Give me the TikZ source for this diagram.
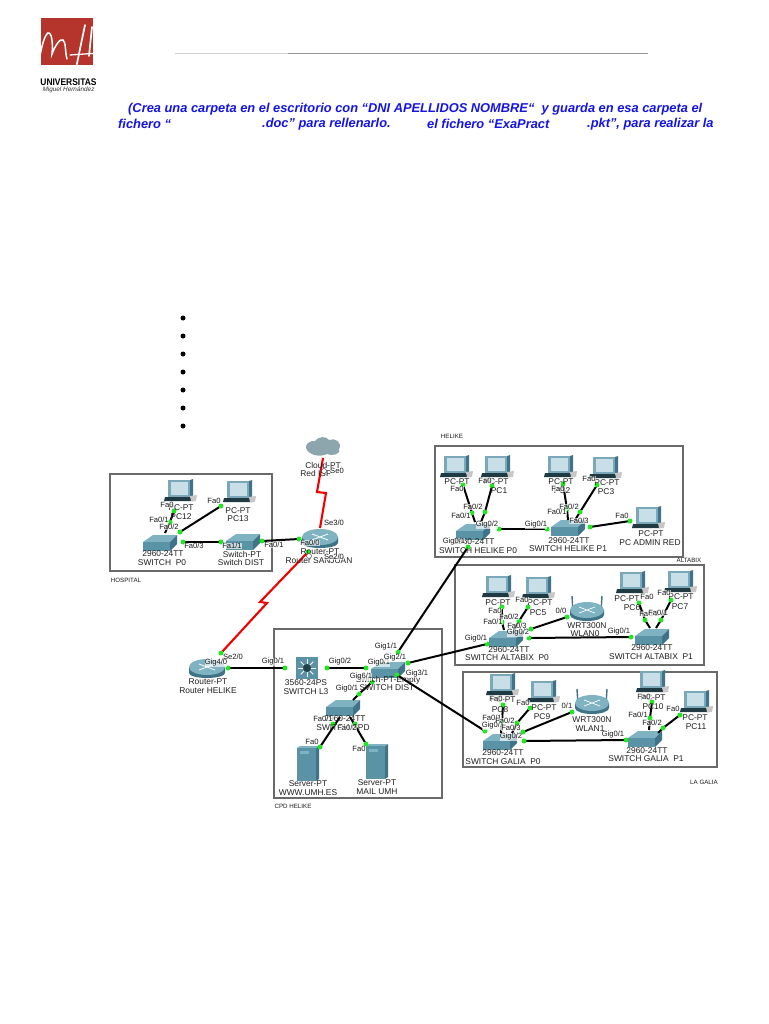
\documentclass[tikz,border=0pt]{standalone}
\usepackage{fontspec}
\setmainfont{Liberation Sans}
\usetikzlibrary{calc}
\definecolor{tealtop}{HTML}{7FB3C2}
\definecolor{tealfront}{HTML}{5A93A5}
\definecolor{tealside}{HTML}{3F7488}
\definecolor{screenc}{HTML}{C8DFE8}
\definecolor{pcframe}{HTML}{7BA8B9}
\definecolor{linkgreen}{HTML}{22E622}
\definecolor{boxgray}{HTML}{6A6A6A}
\definecolor{headblue}{HTML}{1414E6}
\definecolor{logored}{HTML}{B5342B}
\definecolor{cloudc}{HTML}{8DA6AE}
\newcounter{lblc}
\newcommand{\lb}[3]{\stepcounter{lblc}\node[portlabel] (lbl\arabic{lblc}) at (#1,#2) {#3};}
\newcommand{\dv}[3]{\stepcounter{lblc}\node[devlabel] (lbl\arabic{lblc}) at (#1,#2) {#3};}
\tikzset{
 x=1pt,y=-1pt,
 portlabel/.style={font=\fontsize{7.6}{8}\selectfont,fill=white,fill opacity=.65,text opacity=1,inner sep=.2pt,text=black!90},
 devlabel/.style={font=\fontsize{8.4}{9}\selectfont,inner sep=0pt,text=black!88},
 tinylabel/.style={font=\fontsize{6.2}{7}\selectfont,inner sep=0pt,text=black!90},
 headtext/.style={font=\fontsize{12.85}{15}\selectfont\bfseries\itshape,text=headblue,anchor=west,inner sep=0pt},
 areabox/.style={draw=boxgray,line width=1.2pt,fill=white},
 eth/.style={line width=2pt,black},
 serial/.style={line width=2.1pt,red!95!black},
 pdot/.style={circle,fill=linkgreen,inner sep=0pt,minimum size=5pt},
 pics/pcdev/.style={code={
   \fill[tealside] (10,-10) -- (13,-11) -- (13,6) -- (10,7) -- cycle;
   \fill[pcframe] (-12,-10) rectangle (10,7);
   \fill[screenc] (-9,-8) rectangle (8,5);
   \fill[black!50!tealside] (-15,7) -- (10,7) -- (13,11) -- (-16,11) -- cycle;
   \fill[black!22] (10,6) -- (17,5) -- (16,11) -- (11,11) -- cycle;
 }},
 pics/switchdev/.style={code={
   \fill[tealtop] (-17,-1) -- (-7,-8) -- (17,-8) -- (10,-1) -- cycle;
   \fill[tealfront] (-17,-1) rectangle (10,8);
   \fill[tealside] (10,-1) -- (17,-8) -- (17,1) -- (10,8) -- cycle;
 }},
 pics/routerdev/.style={code={
   \fill[tealside] (-18,0) -- (-18,6) arc[start angle=180,end angle=360,x radius=18,y radius=-5] -- (18,0) -- cycle;
   \fill[tealtop] (0,0) ellipse[x radius=18,y radius=8];
   \draw[white,line width=.8pt] (-8,-3) -- (8,3) (-8,3) -- (8,-3);
 }},
 pics/wrtdev/.style={code={
   \draw[tealside,line width=1.4pt] (-14,2) -- (-15,-14) (14,2) -- (15,-14);
   \fill[tealside] (-17,0) -- (-17,5) arc[start angle=180,end angle=360,x radius=17,y radius=-6] -- (17,0) -- cycle;
   \fill[tealtop] (0,0) ellipse[x radius=17,y radius=8];
   \draw[white,line width=.7pt] (-8,-3) -- (8,3) (-8,3) -- (8,-3);
 }},
 pics/serverdev/.style={code={
   \fill[tealside] (9,-16) -- (12,-18) -- (12,15) -- (9,17) -- cycle;
   \fill[tealtop] (-10,-16) -- (-7,-18) -- (12,-18) -- (9,-16) -- cycle;
   \fill[tealfront] (-10,-16) rectangle (9,17);
   \fill[tealtop] (-7,-13) rectangle (2,-10);
 }},
 pics/ltdev/.style={code={
   \fill[tealfront] (-11,-11) rectangle (11,11);
   \foreach \a in {0,45,...,315} {\draw[white,line width=.9pt] (\a:3.5) -- (\a:9);}
   \fill[black!45!tealside] (0,0) circle[radius=4];
 }},
 pics/clouddev/.style={code={
   \fill[cloudc] (-16,3) .. controls (-20,-3) and (-12,-7) .. (-8,-6)
     .. controls (-5,-11) and (4,-11) .. (6,-7) .. controls (12,-10) and (20,-4) .. (16,2)
     .. controls (18,8) and (8,9) .. (4,7) .. controls (-2,10) and (-12,9) .. (-16,3) -- cycle;
 }}
}
\begin{document}
\begin{tikzpicture}
\useasboundingbox (0,0) rectangle (768,1024);
\fill[white] (0,0) rectangle (768,1024);
% ---- header
\fill[logored] (41,18) rectangle (93,65);
\draw[white,line width=1.5pt,line cap=round] (39,60) .. controls (42,46) and (44,36) .. (48,33) .. controls (52,32) and (53,44) .. (52,54)
  .. controls (55,46) and (60,38) .. (63,40) .. controls (66,42) and (65,52) .. (67,59);
\draw[white,line width=1.7pt,line cap=round] (75,73) -- (85,25) (92,27) -- (89,56);
\draw[white,line width=1.3pt,line cap=round] (70,55) -- (99,53);
\node[inner sep=0pt,font=\fontsize{9.6}{10}\selectfont\bfseries,xscale=.88] (logoa) at (68.5,82) {UNIVERSITAS};
\node[inner sep=0pt,font=\fontsize{6.4}{7}\selectfont\itshape,text=black!80] (logob) at (68.5,89.5) {Miguel Hernández};
\coordinate (ruleA) at (175,53.5);\coordinate (ruleB) at (288,53.5);\coordinate (ruleC) at (648,53.5);
\draw[black!18,line width=1pt] (ruleA) -- (ruleB);
\draw[black!42,line width=1pt] (ruleB) -- (ruleC);
\node[headtext] (h1) at (128,109) {(Crea una carpeta en el escritorio con “DNI APELLIDOS NOMBRE“\ \ y guarda en esa carpeta el};
\node[headtext] (h2a) at (118,124) {fichero “};
\node[headtext] (h2b) at (262,124) {.doc” para rellenarlo.};
\node[headtext] (h2c) at (427,124) {el fichero “ExaPract};
\node[headtext] (h2d) at (587,124) {.pkt”, para realizar la};
\foreach \i/\yy in {1/318,2/336,3/354,4/372,5/390,6/408,7/426}
  \node[circle,fill=black,inner sep=0pt,minimum size=5pt] (bul\i) at (183,\yy) {};
% ---- area boxes
\node[areabox,minimum width=162pt,minimum height=97pt,inner sep=0pt] (hospbox) at (191,522.5) {};
\node[areabox,minimum width=168pt,minimum height=169pt,inner sep=0pt] (cpdbox) at (358,713.5) {};
\node[areabox,minimum width=248pt,minimum height=111pt,inner sep=0pt] (helbox) at (559,501.5) {};
\node[areabox,minimum width=249pt,minimum height=100pt,inner sep=0pt] (altbox) at (579.5,615) {};
\node[areabox,minimum width=254pt,minimum height=95pt,inner sep=0pt] (galbox) at (590,719.5) {};
\node[tinylabel] (tHosp) at (126,580) {HOSPITAL};
\node[tinylabel] (tCpd) at (293,806) {CPD HELIKE};
\node[tinylabel] (tHel) at (452,436) {HELIKE};
\node[tinylabel] (tAlt) at (689,560) {ALTABIX};
\node[tinylabel] (tGal) at (704,782) {LA GALIA};
% ---- devices
\foreach \xx/\yy in {180/490,239/491,456/466,497/466,560/466,605/467,648/517,498/586,538/587,632/582,680/581,502/684,543/691,652/681,696/701}
  \pic at (\xx,\yy) {pcdev};
\foreach \xx/\yy in {160/543,243/542,473/532,568/528,506/639,652/637,500/742,645/739,388/670,343/708}
  \pic at (\xx,\yy) {switchdev};
\foreach \xx/\yy in {320/537,207/667}
  \pic at (\xx,\yy) {routerdev};
\foreach \xx/\yy in {587/610,592/703}
  \pic at (\xx,\yy) {wrtdev};
\foreach \xx/\yy in {307/764,376/762}
  \pic at (\xx,\yy) {serverdev};
\pic at (307,668) {ltdev};
\pic at (323,447) {clouddev};
% ---- port coordinates
\foreach \n/\xx/\yy in {
 a1/174/511, a2/170/522, a2e/165/533, a3/221/506, a4/180/532, a5/183/542, a6/221/542, a7/262/541, a8/299/539,
 b1/228/668, b2/285/668, b3/327/668, b4/366/668, b5/398/652, b6/408/663, b7/397/675, b8/372/682, b9/359/694, b10/353/700,
 c1/333/724, c1e/340/717, c2/320/747, c3/355/724, c3e/350/717, c4/366/744,
 d1/463/485, d2/472/513, d2e/475/522, d3/492/486, d4/485/512, d4e/481/522, d5/499/529, d6/547/529, d7/563/484, d8/567/509, d8e/568/520,
 d9/597/485, d10/580/512, d10e/575/520, d11/590/527, d12/630/521, d13/468/547,
 e1/502/607, e2/502/622, e2e/504/630, e3/528/607, e4/519/621, e4e/514/630, e5/567/617, e6/531/629, e7/529/638, e8/631/637,
 e9/639/603, e10/645/620, e10e/650/628, e11/671/600, e12/661/620, e12e/656/628, e13/487/644,
 f1/503/705, f2/502/722, f2e/501/733, f3/530/708, f4/517/723, f4e/512/733, f5/572/712, f6/523/732, f7/524/741, f8/626/740,
 f9/652/702, f10/650/718, f10e/649/730, f11/680/715, f12/663/728, f12e/658/733, f13/485/731,
 r1/323/458, r2/317/492, r3/326/493, r4/320/528, s1/308/552, s2/260/602, s3/267/603, s4/221/653}
  \coordinate (\n) at (\xx,\yy);
% ---- links
\foreach \p/\q in {a1/a2,a2/a2e,a3/a4,a5/a6,a7/a8,b1/b2,b3/b4,b5/d13,b6/e13,b7/f13,b8/b9,b9/b10,c1e/c2,c3e/c4,
 d1/d2,d2/d2e,d3/d4,d4/d4e,d5/d6,d7/d8,d8/d8e,d9/d10,d10/d10e,d11/d12,
 e1/e2,e2/e2e,e3/e4,e4/e4e,e5/e6,e7/e8,e9/e10,e10/e10e,e11/e12,e12/e12e,
 f1/f2,f2/f2e,f3/f4,f4/f4e,f5/f6,f7/f8,f9/f10,f10/f10e,f11/f12,f12/f12e}
  \draw[eth] (\p) -- (\q);
\draw[serial] (r1) -- (r2) -- (r3) -- (r4);
\draw[serial] (s1) -- (s2) -- (s3) -- (s4);
\foreach \n in {a1,a2,a3,a4,a5,a6,a7,a8,b1,b2,b3,b4,b5,b6,b7,b8,b9,c1,c2,c3,c4,
 d1,d2,d3,d4,d5,d6,d7,d8,d9,d10,d11,d12,d13,
 e1,e2,e3,e4,e5,e6,e7,e8,e9,e10,e11,e12,e13,
 f1,f2,f3,f4,f5,f6,f7,f8,f9,f10,f11,f12,f13,s1,s4}
  \node[pdot] (dot\n) at (\n) {};
% ---- device labels
\dv{181}{508}{PC-PT}\dv{181}{517}{PC12}\dv{238}{511}{PC-PT}\dv{238}{519}{PC13}
\dv{163}{554}{2960-24TT}\dv{162}{563}{SWITCH\ \ P0}\dv{242}{554}{Switch-PT}\dv{241}{562}{Switch DIST}
\dv{320}{552}{Router-PT}\dv{319}{561}{Router SANJUAN}\dv{323}{465}{Cloud-PT}\dv{316}{473}{Red ISP}
\dv{208}{682}{Router-PT}\dv{208}{691}{Router HELIKE}\dv{306}{683}{3560-24PS}\dv{306}{692}{SWITCH L3}
\dv{388}{680}{Switch-PT-Empty}\dv{387}{688}{SWITCH DIST}\dv{345}{719}{2960-24TT}\dv{343}{728}{SWITCH CPD}
\dv{308}{784}{Server-PT}\dv{308}{793}{WWW.UMH.ES}\dv{377}{783}{Server-PT}\dv{377}{792}{MAIL UMH}
\dv{457}{482}{PC-PT}\dv{496}{482}{PC-PT}\dv{499}{491}{PC1}\dv{474}{542}{2960-24TT}\dv{478}{551}{SWITCH HELIKE P0}
\dv{561}{482}{PC-PT}\dv{562}{491}{PC2}\dv{607}{483}{PC-PT}\dv{606}{492}{PC3}\dv{569}{541}{2960-24TT}\dv{568}{549}{SWITCH HELIKE P1}
\dv{651}{534}{PC-PT}\dv{650}{543}{PC ADMIN RED}
\dv{498}{603}{PC-PT}\dv{540}{603}{PC-PT}\dv{538}{613}{PC5}\dv{587}{626}{WRT300N}\dv{585}{634}{WLAN0}
\dv{509}{650}{2960-24TT}\dv{507}{658}{SWITCH ALTABIX\ \ P0}\dv{652}{648}{2960-24TT}\dv{651}{657}{SWITCH ALTABIX\ \ P1}
\dv{627}{599}{PC-PT}\dv{632}{608}{PC6}\dv{681}{597}{PC-PT}\dv{680}{607}{PC7}
\dv{503}{700}{PC-PT}\dv{500}{710}{PC8}\dv{544}{708}{PC-PT}\dv{542}{717}{PC9}\dv{592}{720}{WRT300N}\dv{590}{729}{WLAN1}
\dv{503}{753}{2960-24TT}\dv{503}{762}{SWITCH GALIA\ \ P0}\dv{647}{751}{2960-24TT}\dv{646}{759}{SWITCH GALIA\ \ P1}
\dv{653}{698}{PC-PT}\dv{653}{707}{PC10}\dv{695}{718}{PC-PT}\dv{696}{727}{PC11}
% ---- port labels
\lb{167}{505}{Fa0}\lb{159}{520}{Fa0/1}\lb{169}{527}{Fa0/2}\lb{214}{501}{Fa0}\lb{194}{546}{Fa0/3}\lb{232}{546}{Fa1/1}
\lb{274}{545}{Fa0/1}\lb{310}{543}{Fa0/0}\lb{334}{523}{Se3/0}\lb{337}{471}{Se0}\lb{334}{557}{Se2/0}
\lb{233}{657}{Se2/0}\lb{216}{663}{Gig4/0}\lb{273}{662}{Gig0/1}\lb{340}{662}{Gig0/2}\lb{379}{663}{Gig0/1}
\lb{386}{647}{Gig1/1}\lb{395}{658}{Gig2/1}\lb{417}{674}{Gig3/1}\lb{361}{677}{Gig6/1}\lb{347}{689}{Gig0/1}
\lb{323}{719}{Fa0/1}\lb{347}{728}{Fa0/2}\lb{312}{742}{Fa0}\lb{359}{749}{Fa0}
\lb{457}{489}{Fa0}\lb{485}{481}{Fa0}\lb{473}{507}{Fa0/2}\lb{461}{516}{Fa0/1}\lb{487}{525}{Gig0/2}\lb{536}{525}{Gig0/1}\lb{454}{542}{Gig0/1}
\lb{558}{489}{Fa0}\lb{589}{479}{Fa0}\lb{569}{507}{Fa0/2}\lb{557}{512}{Fa0/1}\lb{579}{521}{Fa0/3}\lb{622}{516}{Fa0}
\lb{495}{611}{Fa0}\lb{522}{600}{Fa0}\lb{509}{617}{Fa0/2}\lb{493}{622}{Fa0/1}\lb{517}{626}{Fa0/3}\lb{518}{633}{Gig0/2}\lb{476}{639}{Gig0/1}
\lb{561}{611}{0/0}\lb{619}{632}{Gig0/1}\lb{647}{597}{Fa0}\lb{649}{614}{Fa0/2}\lb{658}{613}{Fa0/1}\lb{664}{593}{Fa0}
\lb{496}{699}{Fa0}\lb{523}{703}{Fa0}\lb{567}{706}{0/1}\lb{492}{718}{Fa0/1}\lb{505}{721}{Fa0/2}\lb{493}{726}{Gig0/1}\lb{511}{728}{Fa0/3}\lb{511}{737}{Gig0/2}
\lb{613}{735}{Gig0/1}\lb{644}{697}{Fa0}\lb{638}{715}{Fa0/1}\lb{652}{723}{Fa0/2}\lb{673}{709}{Fa0}
% clocks
\foreach \n/\xx/\yy in {ck1/324/471,ck2/309/556}
  \node[circle,draw=black!70,line width=.5pt,inner sep=0pt,minimum size=5pt,fill=white] (\n) at (\xx,\yy) {};
\end{tikzpicture}
\end{document}
